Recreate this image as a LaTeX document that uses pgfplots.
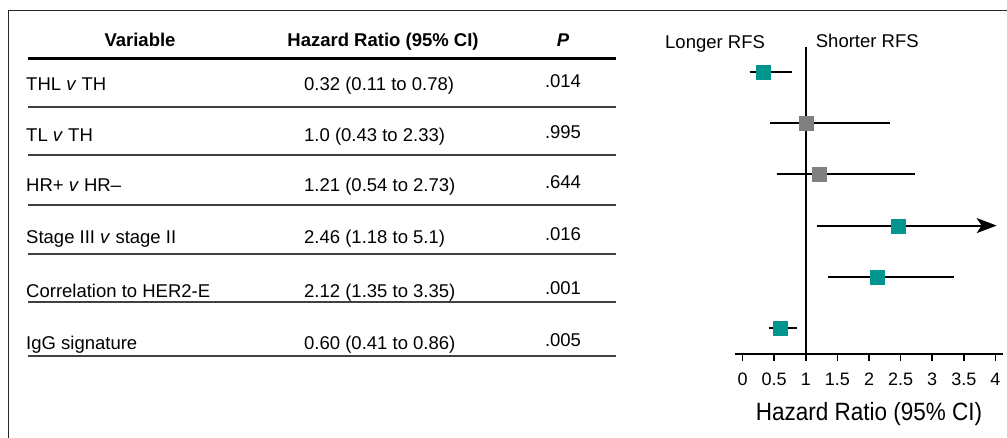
\documentclass[border=0pt]{standalone}
\usepackage{pgfplots}
\pgfplotsset{compat=1.18}
\usepackage{fontspec}
\setmainfont{Liberation Sans}
\usetikzlibrary{arrows.meta}
\definecolor{tealm}{HTML}{00968F}
\definecolor{graym}{HTML}{808080}
\newcommand{\tf}{\fontsize{18.5}{20}\selectfont}
\begin{document}
\begin{tikzpicture}
\path[use as bounding box] (0pt,0pt) rectangle (1007pt,-438pt);
% frame
\draw[line width=1.5pt, black!85] (8.5pt,-438pt) -- (8.5pt,-10.5pt) -- (1007pt,-10.5pt);
% table rules
\draw[line width=3pt] (28pt,-58.5pt) -- (616pt,-58.5pt);
\foreach \y in {107,155,205,254,302.5,356} \draw[line width=2pt, black!75] (28pt,-\y pt) -- (616pt,-\y pt);
% header
\node[anchor=base, inner sep=0pt, font=\tf\bfseries] at (140pt,-46.7pt) {Variable};
\node[anchor=base, inner sep=0pt, font=\tf\bfseries] at (383pt,-46.7pt) {Hazard Ratio (95\% CI)};
\node[anchor=base, inner sep=0pt, font=\tf\bfseries\itshape] at (563pt,-46.7pt) {P};
% rows
\foreach \b/\v/\h/\p in {90.5/{THL \textit{v} TH}/{0.32 (0.11 to 0.78)}/.014,
  142/{TL \textit{v} TH}/{1.0 (0.43 to 2.33)}/.995,
  192/{HR+ \textit{v} HR–}/{1.21 (0.54 to 2.73)}/.644,
  244/{Stage III \textit{v} stage II}/{2.46 (1.18 to 5.1)}/.016,
  298/{Correlation to HER2-E}/{2.12 (1.35 to 3.35)}/.001,
  350/{IgG signature}/{0.60 (0.41 to 0.86)}/.005}{
  \node[anchor=base west, inner sep=0pt, font=\tf] at (26pt,-\b pt) {\v};
  \node[anchor=base west, inner sep=0pt, font=\tf] at (304pt,-\b pt) {\h};
  \node[anchor=base, inner sep=0pt, font=\tf] at (563pt,-\b pt+3pt) {\p};
}
% forest labels
\node[anchor=base west, inner sep=0pt, font=\tf] at (665pt,-48.3pt) {Longer RFS};
\node[anchor=base west, inner sep=0pt, font=\tf] at (815.7pt,-47.3pt) {Shorter RFS};
\begin{axis}[
  at={(735pt,-353.5pt)}, anchor=south west,
  scale only axis, width=268pt, height=307pt,
  xmin=-0.12, xmax=4.12, ymin=0.5, ymax=6.5,
  axis x line*=bottom, axis y line=none,
  axis line style={-, line width=2pt, black},
  xtick={0,0.5,1,1.5,2,2.5,3,3.5,4},
  ytick=\empty,
  tick align=outside, major tick length=7pt,
  xtick style={line width=1.5pt, black},
  xticklabel style={font=\fontsize{18}{18}\selectfont, anchor=base, yshift=-24.5pt, inner sep=0pt},
  /pgf/number format/assume math mode=true,
  xlabel={\scalebox{0.9}[1]{Hazard Ratio (95\% CI)}},
  xlabel style={font=\fontsize{25}{25}\selectfont, at={(axis description cs:0.5,0)}, anchor=base, yshift=-66.5pt, inner sep=0pt},
  clip=false,
]
\addplot[black, line width=2pt] coordinates {(1,0.5) (1,6.5)};
\addplot[black, line width=2pt] coordinates {(0.11,6) (0.78,6)};
\addplot[black, line width=2pt] coordinates {(0.43,5) (2.33,5)};
\addplot[black, line width=2pt] coordinates {(0.54,4) (2.73,4)};
\addplot[black, line width=2pt, -{Stealth[length=20pt,width=15pt,inset=5pt]}] coordinates {(1.18,3) (4.02,3)};
\addplot[black, line width=2pt] coordinates {(1.35,2) (3.35,2)};
\addplot[black, line width=2pt] coordinates {(0.41,1) (0.86,1)};
\addplot[only marks, mark=square*, mark size=7pt, mark options={fill=tealm, draw=tealm, line width=0.1pt}] coordinates {(0.32,6) (2.46,3) (2.12,2) (0.60,1)};
\addplot[only marks, mark=square*, mark size=7pt, mark options={fill=graym, draw=graym, line width=0.1pt}] coordinates {(1.0,5) (1.21,4)};
\end{axis}
\end{tikzpicture}
\end{document}
